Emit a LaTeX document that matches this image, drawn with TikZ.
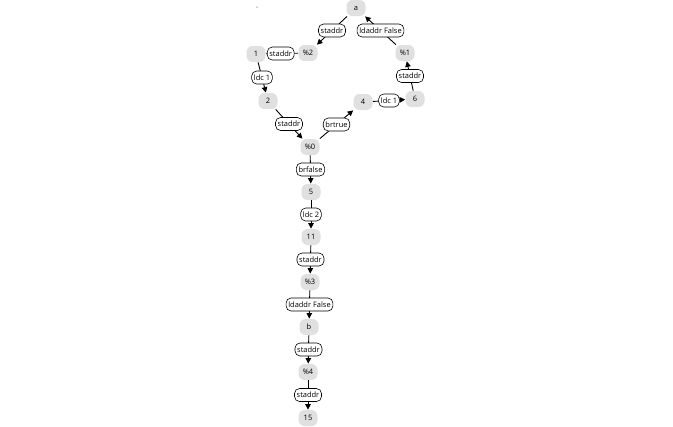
\documentclass[tikz,border=0pt]{standalone}
\usepackage{fontspec}
\setmainfont{Open Sans}
\usetikzlibrary{arrows.meta}

\tikzset{every picture/.style={line width=0.75pt}}
\tikzset{
  val/.style={fill={rgb,255:red,224;green,224;blue,224}, rounded corners=6bp, minimum width=19bp, minimum height=16bp, inner sep=1bp, font=\fontsize{7.5}{9}\selectfont},
  op/.style={draw, fill=white, rounded corners=5bp, inner xsep=2.2bp, inner ysep=1bp, minimum height=13bp, line width=0.6pt, font=\fontsize{7.5}{9}\selectfont},
  flow/.style={-{Triangle[length=5.5bp,width=5.5bp]}, line width=0.9pt}
}

\begin{document}
\begin{tikzpicture}[x=1bp,y=1bp,yscale=-1,xscale=1]
	%set diagram size to the reference frame
	\useasboundingbox (0,0) rectangle (673,426);
	\fill (257,7) circle (0.5);
	
	%values
	\node [val] (a) at (356,8) {a};
	\node [val] (p2) at (308,53) {\%2};
	\node [val] (n1) at (256,54) {1};
	\node [val] (n2) at (268,101) {2};
	\node [val] (p0) at (310,147) {\%0};
	\node [val] (n4) at (363,102) {4};
	\node [val] (n6) at (415,99) {6};
	\node [val] (p1) at (405,53) {\%1};
	\node [val] (n5) at (311,192) {5};
	\node [val] (n11) at (311,237) {11};
	\node [val] (p3) at (310,282) {\%3};
	\node [val] (b) at (309,327) {b};
	\node [val] (p4) at (308,372) {\%4};
	\node [val] (n15) at (308,418) {15};
	
	%loop
	\draw [flow] (a) -- node [op] {staddr} (p2);
	\draw [flow] (p2) -- node [op, pos=0.54] {staddr} (n1);
	\draw [flow] (n1) -- node [op] {ldc 1} (n2);
	\draw [flow] (n2) -- node [op] {staddr} (p0);
	\draw [flow] (p0) -- node [op] {brtrue} (n4);
	\draw [flow] (n4) -- node [op] {ldc 1} (n6);
	\draw [flow] (n6) -- node [op] {staddr} (p1);
	\draw [flow] (p1) -- node [op] {ldaddr False} (a);
	
	%exit chain
	\draw [flow] (p0) -- node [op] {brfalse} (n5);
	\draw [flow] (n5) -- node [op] {ldc 2} (n11);
	\draw [flow] (n11) -- node [op] {staddr} (p3);
	\draw [flow] (p3) -- node [op] {ldaddr False} (b);
	\draw [flow] (b) -- node [op] {staddr} (p4);
	\draw [flow] (p4) -- node [op] {staddr} (n15);
	
\end{tikzpicture}
\end{document}
